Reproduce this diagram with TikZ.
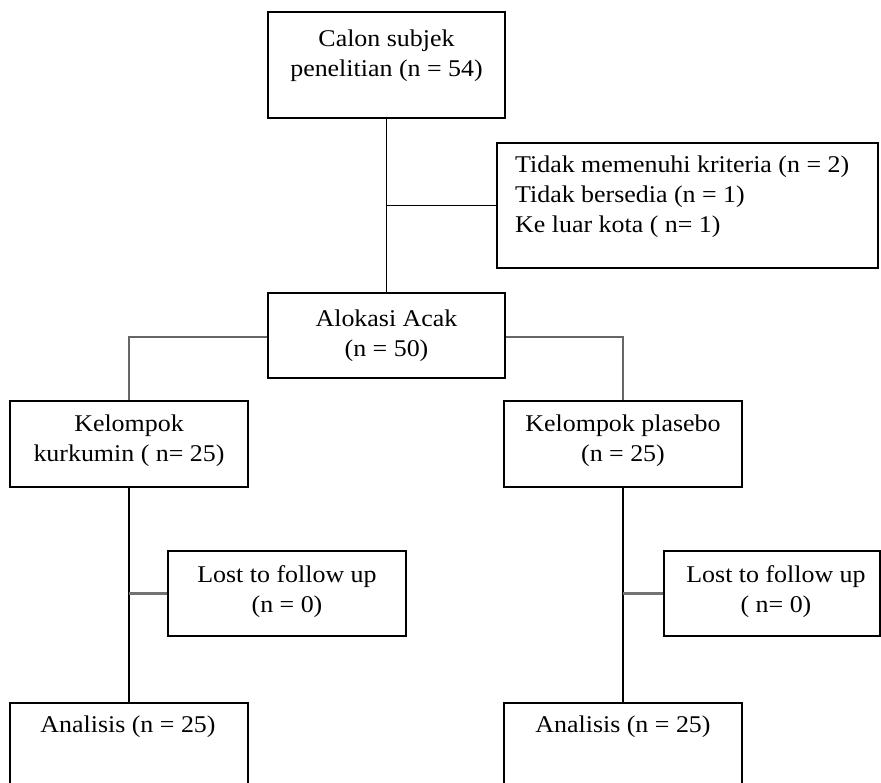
\documentclass[tikz,border=0pt]{standalone}
\usepackage{fontspec}
\setmainfont{Liberation Serif}[FakeStretch=1.08]
\begin{document}
\begin{tikzpicture}[x=1pt,y=-1pt,
  box/.style={draw=black,line width=1.3pt,rectangle,inner sep=0pt},
  txt/.style={inner sep=0pt,align=center,font=\fontsize{24}{30}\selectfont},
  ltxt/.style={inner sep=0pt,align=left,font=\fontsize{24}{30}\selectfont},
  link/.style={draw=black,line width=1.3pt},
  glink/.style={draw=black!60,line width=1.8pt},
  side/.style={draw=black!55,line width=3pt}]
\useasboundingbox (0,0) rectangle (881,783);
\clip (0,0) rectangle (881,783);

% boxes
\node[box,minimum width=237,minimum height=106] (calon) at (386.5,65) {};
\node[box,minimum width=381,minimum height=125] (excl) at (687.5,205.5) {};
\node[box,minimum width=237,minimum height=85] (alok) at (386.5,335.5) {};
\node[box,minimum width=238,minimum height=86] (kurk) at (129,444) {};
\node[box,minimum width=238,minimum height=86] (plas) at (623,444) {};
\node[box,minimum width=238,minimum height=85] (lostA) at (287,593.5) {};
\node[box,minimum width=216,minimum height=85] (lostB) at (772,593.5) {};
\node[box,minimum width=238,minimum height=120] (anaA) at (129,763) {};
\node[box,minimum width=238,minimum height=120] (anaB) at (623,763) {};

% texts
\node[txt] (calonT) at (386.5,56) {Calon subjek\\penelitian (n = 54)};
\node[ltxt,anchor=west] (exclT) at (515,197) {Tidak memenuhi kriteria (n = 2)\\Tidak bersedia (n = 1)\\Ke luar kota ( n= 1)};
\node[txt] (alokT) at (386.5,336) {Alokasi Acak\\(n = 50)};
\node[txt] (kurkT) at (129,441) {Kelompok\\kurkumin ( n= 25)};
\node[txt] (plasT) at (623,441) {Kelompok plasebo\\(n = 25)};
\node[txt] (lostAT) at (287,592) {Lost to follow up\\(n = 0)};
\node[txt] (lostBT) at (776,592) {Lost to follow up\\( n= 0)};
\node[txt] (anaAT) at (128,727) {Analisis (n = 25)};
\node[txt] (anaBT) at (623,727) {Analisis (n = 25)};

% connectors
\draw[link] (calon.south) -- (alok.north);
\draw[link] (calon.south |- excl.west) -- (excl.west);
\draw[glink] (alok.west |- 0,337) -| (kurk.north);
\draw[glink] (alok.east |- 0,337) -| (plas.north);
\draw[link] (kurk.south) -- (anaA.north);
\draw[link] (plas.south) -- (anaB.north);
\draw[side] (kurk.south |- lostA.west) -- (lostA.west);
\draw[side] (plas.south |- lostB.west) -- (lostB.west);
\end{tikzpicture}
\end{document}
